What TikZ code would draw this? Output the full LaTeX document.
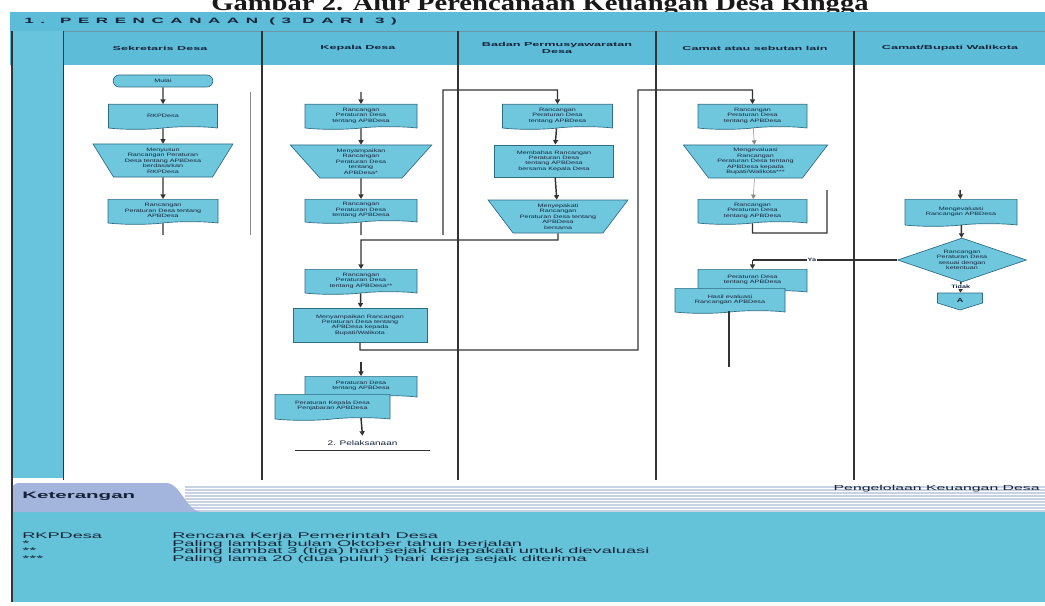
\documentclass[tikz,border=0pt]{standalone}
\usepackage{fontspec}
\setmainfont{Liberation Sans}
\newfontfamily\bsans[FakeStretch=1.5]{Liberation Sans}
\newfontfamily\wsans[FakeStretch=2.2]{Liberation Sans}
\newfontfamily\ttl[FakeStretch=1.3]{Liberation Serif}
\usetikzlibrary{shapes.geometric,shapes.symbols,shapes.misc,arrows.meta}
\definecolor{hdr}{HTML}{5DBDD8}
\definecolor{boxc}{HTML}{6FC7DE}
\definecolor{edge}{HTML}{2E6C82}
\definecolor{txt}{HTML}{14233A}
\definecolor{tabc}{HTML}{A3B5DC}
\definecolor{leftc}{HTML}{68C3DC}
\definecolor{botc}{HTML}{64C3D8}
\definecolor{lnc}{HTML}{333333}
\definecolor{lgray}{HTML}{8A8A8A}
\definecolor{stripeb}{HTML}{C9D2E3}
\tikzset{
  bw/.style={minimum width=#1*0.75pt},
  bh/.style={minimum height=#1*0.75pt},
  boxtxt/.style={font=\bsans\fontsize{3.6}{4.1}\selectfont, text=txt, align=center},
  docbox/.style={tape, tape bend top=none, tape bend bottom=in and out, tape bend height=2pt,
    draw=edge, line width=0.5pt, fill=boxc, boxtxt, inner sep=0.5pt},
  procbox/.style={rectangle, draw=edge, line width=0.7pt, fill=boxc, boxtxt, inner sep=0.5pt},
  trapbox/.style={trapezium, shape border rotate=180, trapezium stretches=true,
    trapezium left angle=#1, trapezium right angle=#1,
    draw=edge, line width=0.5pt, fill=boxc, boxtxt, inner sep=0.5pt},
  termbox/.style={rounded rectangle, draw=edge, line width=0.5pt, fill=boxc, boxtxt, inner sep=0.5pt},
  diabox/.style={diamond, aspect=2.9, draw=edge, line width=0.5pt, fill=boxc, boxtxt, inner sep=0pt},
  pentfill/.style={draw=edge, line width=0.5pt, fill=boxc},
  conn/.style={draw=lnc, line width=1.1pt},
  thinconn/.style={draw=lgray, line width=0.7pt},
  arr/.style={conn, -{Triangle[length=3.4pt,width=3.8pt]}},
  lightarr/.style={draw=lgray, line width=0.4pt, -{Triangle[length=3.2pt,width=3.6pt]}},
  lanehead/.style={font=\wsans\bfseries\fontsize{4.3}{5.2}\selectfont, text=txt, align=center},
  legend/.style={font=\wsans\fontsize{6.2}{7}\selectfont, text=txt, anchor=base west, inner sep=0pt},
  divider/.style={draw=lnc, line width=0.8pt},
  smalllab/.style={font=\bsans\bfseries\fontsize{3.6}{4}\selectfont, text=txt, fill=white, inner sep=0.6pt}
}
\begin{document}
\begin{tikzpicture}[x=0.75pt,y=-0.75pt]
\useasboundingbox (0,0) rectangle (1045,606);
\fill[white] (0,0) rectangle (1045,606);
% title (top clipped by page edge)
\node[anchor=base, inner sep=0pt, text=black!90, font=\ttl\bfseries\fontsize{16.5}{18}\selectfont] (title) at (540,10.5) {Gambar 2. Alur Perencanaan Keuangan Desa Ringga};
% header band and lane header row
\fill[hdr] (10,12) rectangle (1045,65);
\draw[edge!70, line width=0.5pt] (10,31) -- (1045,31);
\node[anchor=west, inner sep=0pt, text=txt, font=\wsans\bfseries\fontsize{5.8}{6.4}\selectfont\addfontfeature{LetterSpace=85}] (band) at (24,22) {1. PERENCANAAN (3 DARI 3)};
\fill[leftc] (12,31) rectangle (63,478);
\fill[white] (65,65) rectangle (1045,478);
\node[lanehead] (h1) at (160,48) {Sekretaris Desa};
\node[lanehead] (h2) at (358,48) {Kepala Desa};
\node[lanehead] (h3) at (557,48) {Badan Permusyawaratan\\Desa};
\node[lanehead] (h4) at (755,48) {Camat atau sebutan lain};
\node[lanehead] (h5) at (950,48) {Camat/Bupati Walikota};
\draw[divider, line width=1.1pt] (12,31) -- (12,602);
\draw[divider, line width=1.1pt] (63.5,31) -- (63.5,480);
\foreach \xx in {262,458,656,854} {\draw[divider] (\xx,31) -- (\xx,480);}

% ---------- Sekretaris Desa ----------
\node[termbox, bw=101, bh=12] (mulai) at (163,81) {Mulai};
\node[docbox, bw=109, bh=25] (s1) at (163,115.5) {RKPDesa};
\node[trapbox=59, bw=140, bh=33] (s2) at (163,160.5) {Menyusun\\Rancangan Peraturan\\Desa tentang APBDesa\\berdasarkan\\RKPDesa};
\node[docbox, bw=110, bh=25] (s3) at (163,210.5) {Rancangan\\Peraturan Desa tentang\\APBDesa};
\coordinate (s3e) at (163,235);
\draw[arr] (mulai) -- (s1);
\draw[arr] (s1) -- (s2);
\draw[arr] (s2) -- (s3);
\draw[conn] (s3) -- (s3e);
\coordinate (sv1) at (250,92);
\coordinate (sv2) at (250,235);
\draw[thinconn] (sv1) -- (sv2);

% ---------- Kepala Desa ----------
\coordinate (kin) at (361,92);
\node[docbox, bw=112, bh=25] (k1) at (361,115.5) {Rancangan\\Peraturan Desa\\tentang APBDesa};
\node[trapbox=55, bw=142, bh=33] (k2) at (361,161.5) {Menyampaikan\\Rancangan\\Peraturan Desa\\tentang\\APBDesa*};
\node[docbox, bw=112, bh=24] (k3) at (361,210) {Rancangan\\Peraturan Desa\\tentang APBDesa};
\coordinate (k3e) at (361,235);
\draw[arr] (kin) -- (k1);
\draw[arr] (k1) -- (k2);
\draw[arr] (k2) -- (k3);
\draw[conn] (k3) -- (k3e);

% ---------- BPD ----------
\node[docbox, bw=110, bh=25] (b1) at (557.5,115.5) {Rancangan\\Peraturan Desa\\tentang APBDesa};
\node[procbox, bw=119, bh=32] (b2) at (554,161) {Membahas Rancangan\\Peraturan Desa\\tentang APBDesa\\bersama Kepala Desa};
\node[trapbox=51, bw=140, bh=33] (b3) at (558,216.5) {Menyepakati\\Rancangan\\Peraturan Desa tentang\\APBDesa\\bersama};
\coordinate (kv1) at (443,235);
\coordinate (kv2) at (443,90);
\coordinate (kv3) at (557.5,90);
\draw[arr] (kv1) -- (kv2) -- (kv3) -- (b1);
\draw[arr] (b1) -- (b2);
\draw[arr] (b2) -- (b3);

% ---------- Kepala Desa (lower) ----------
\node[docbox, bw=112, bh=25] (k4) at (361,280.5) {Rancangan\\Peraturan Desa\\tentang APBDesa**};
\node[procbox, bw=134, bh=34] (k5) at (360,325) {Menyampaikan Rancangan\\Peraturan Desa tentang\\APBDesa kepada\\Bupati/Walikota};
\coordinate (b3a) at (558,240);
\coordinate (b3b) at (361,240);
\draw[arr] (b3) -- (b3a) -- (b3b) -- (k4);
\draw[arr] (k4) -- (k5);
\coordinate (k6in) at (361,362);
\node[docbox, bw=112, bh=22] (k6) at (361,386) {Peraturan Desa\\tentang APBDesa};
\node[docbox, bw=115, bh=26] (k7) at (332.5,406) {Peraturan Kepala Desa\\Penjabaran APBDesa};
\draw[arr] (k6in) -- (k6);
\node[inner sep=0pt, bw=135, bh=14, font=\bsans\fontsize{5}{6}\selectfont, text=txt] (pel) at (362.5,443) {2. Pelaksanaan};
\draw[conn, line width=0.8pt] (pel.south west) -- (pel.south east);
\draw[arr] (k7.south -| k6.south) -- (pel.north);

% ---------- Camat ----------
\node[docbox, bw=109, bh=25] (c1) at (752.5,115.5) {Rancangan\\Peraturan Desa\\tentang APBDesa};
\node[trapbox=53, bw=145, bh=33] (c2) at (755.5,161.5) {Mengevaluasi\\Rancangan\\Peraturan Desa tentang\\APBDesa kepada\\Bupati/Walikota***};
\node[docbox, bw=109, bh=25] (c3) at (752.5,210.5) {Rancangan\\Peraturan Desa\\tentang APBDesa};
\coordinate (k5a) at (360,350);
\coordinate (k5b) at (638,350);
\coordinate (k5c) at (638,90);
\coordinate (k5d) at (752.5,90);
\draw[arr] (k5) -- (k5a) -- (k5b) -- (k5c) -- (k5d) -- (c1);
\draw[lightarr] (c1) -- (c2);
\draw[lightarr] (c2) -- (c3);
\coordinate (c3a) at (752.5,233);
\coordinate (c3b) at (827,233);
\coordinate (c3c) at (827,190);
\draw[conn] (c3) -- (c3a) -- (c3b) -- (c3c);

% ---------- Bupati ----------
\coordinate (din) at (960,190);
\node[docbox, bw=112, bh=27] (d1) at (961,211.5) {Mengevaluasi\\Rancangan APBDesa};
\node[diabox, bw=129, bh=44] (d2) at (962,260) {Rancangan\\Peraturan Desa\\sesuai dengan\\ketentuan};
\fill[pentfill] (937.5,293) -- (982.5,293) -- (982.5,303) -- (960,310) -- (937.5,303) -- cycle;
\node[boxtxt, font=\bsans\bfseries\fontsize{4.5}{5}\selectfont, bw=45, bh=14, inner sep=0pt] (d3) at (960,300) {A};
\draw[arr] (din) -- (d1);
\draw[arr] (d1) -- (d2);
\draw[arr] (d2) -- node[smalllab, pos=0.45] {Tidak} (d3);

% ---------- Camat (lower) ----------
\node[docbox, bw=109, bh=24] (c4) at (752.5,280) {Peraturan Desa\\tentang APBDesa};
\node[docbox, bw=110, bh=25] (c5) at (730,299.5) {Hasil evaluasi\\Rancangan APBDesa};
\coordinate (ya) at (752.5,260);
\draw[conn] (d2.west) -- node[smalllab, pos=0.59] {Ya} (ya);
\draw[arr] (ya) -- (c4);
\coordinate (c5e) at (729,367);
\draw[conn] (c5.south -| c5e) -- (c5e);

% ---------- Keterangan ----------
\fill[botc] (12,512) rectangle (1045,602);
\fill[stripeb] (185,486) rectangle (1045,512);
\foreach \yy in {488,491,...,511} {\draw[white, line width=0.6pt] (185,\yy) -- (1045,\yy);}
\fill[tabc] (12,512) -- (12,489) to[out=90,in=180] (19,483) -- (166,483) .. controls (181,483) and (186,512) .. (202,512) -- cycle;
\draw[divider, line width=1.1pt] (12,483) -- (12,602);
\node[anchor=west, inner sep=0pt, text=txt, font=\wsans\bfseries\fontsize{7}{8}\selectfont] (ket) at (22,496) {Keterangan};
\node[anchor=east, inner sep=0pt, text=txt, font=\wsans\fontsize{5.4}{6}\selectfont] (peng) at (1040,489) {Pengelolaan Keuangan Desa};
\node[legend] (l1) at (22,538) {RKPDesa};
\node[legend] (l2) at (22,546) {*};
\node[legend] (l3) at (22,553.5) {**};
\node[legend] (l4) at (22,561) {***};
\node[legend] (t1) at (172,538) {Rencana Kerja Pemerintah Desa};
\node[legend] (t2) at (172,546) {Paling lambat bulan Oktober tahun berjalan};
\node[legend] (t3) at (172,553.5) {Paling lambat 3 (tiga) hari sejak disepakati untuk dievaluasi};
\node[legend] (t4) at (172,561) {Paling lama 20 (dua puluh) hari kerja sejak diterima};
\end{tikzpicture}
\end{document}
